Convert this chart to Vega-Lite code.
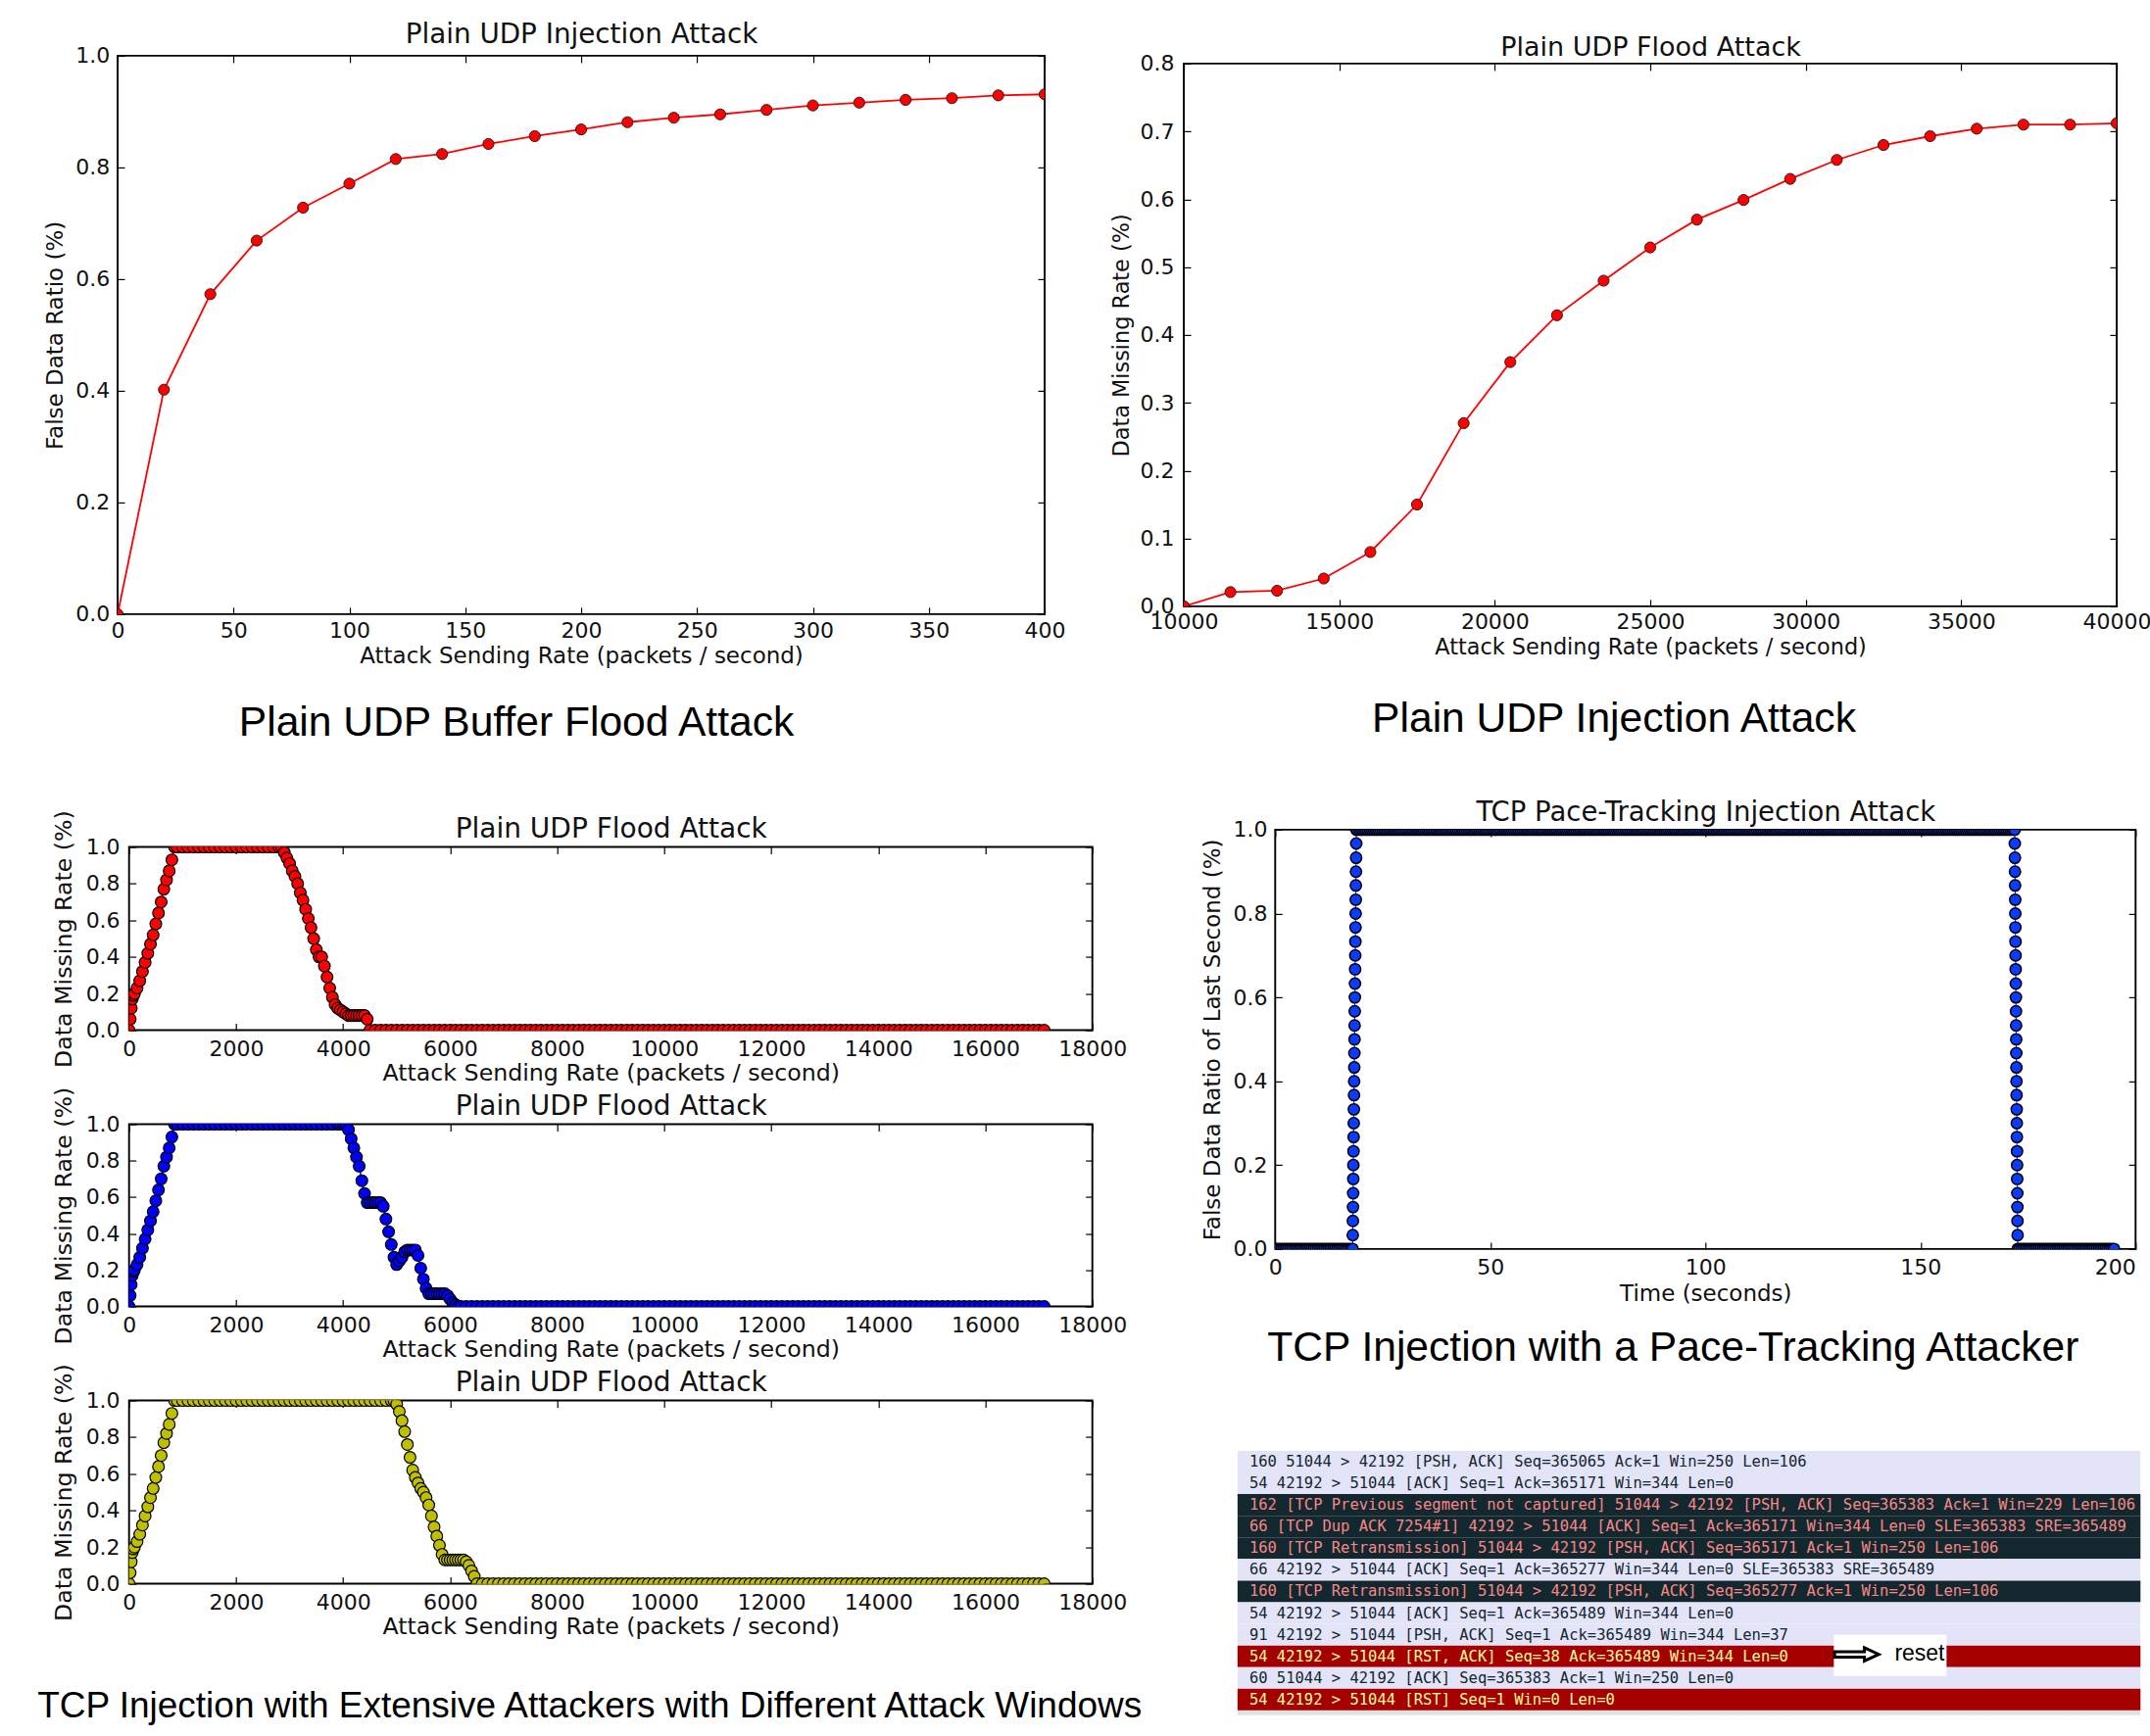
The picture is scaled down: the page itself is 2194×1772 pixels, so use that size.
{
"$schema":"https://vega.github.io/schema/vega-lite/v6.json",
"background":"white",
"padding":{"left":35,"top":20.9,"right":0,"bottom":0},
"datasets":{
"udpBuf":[{"rate":0,"ratio":0},{"rate":20,"ratio":0.402},{"rate":40,"ratio":0.573},{"rate":60,"ratio":0.669},{"rate":80,"ratio":0.728},{"rate":100,"ratio":0.771},{"rate":120,"ratio":0.815},{"rate":140,"ratio":0.824},{"rate":160,"ratio":0.842},{"rate":180,"ratio":0.856},{"rate":200,"ratio":0.868},{"rate":220,"ratio":0.881},{"rate":240,"ratio":0.889},{"rate":260,"ratio":0.895},{"rate":280,"ratio":0.903},{"rate":300,"ratio":0.911},{"rate":320,"ratio":0.916},{"rate":340,"ratio":0.921},{"rate":360,"ratio":0.924},{"rate":380,"ratio":0.929},{"rate":400,"ratio":0.931}],
"udpFlood":[{"rate":10000,"miss":0},{"rate":11500,"miss":0.021},{"rate":13000,"miss":0.023},{"rate":14500,"miss":0.041},{"rate":16000,"miss":0.08},{"rate":17500,"miss":0.15},{"rate":19000,"miss":0.27},{"rate":20500,"miss":0.36},{"rate":22000,"miss":0.429},{"rate":23500,"miss":0.48},{"rate":25000,"miss":0.529},{"rate":26500,"miss":0.57},{"rate":28000,"miss":0.599},{"rate":29500,"miss":0.63},{"rate":31000,"miss":0.658},{"rate":32500,"miss":0.68},{"rate":34000,"miss":0.693},{"rate":35500,"miss":0.704},{"rate":37000,"miss":0.71},{"rate":38500,"miss":0.71},{"rate":40000,"miss":0.712}],
"win1":[{"rate":0,"miss":0},{"rate":20,"miss":0.06},{"rate":40,"miss":0.12},{"rate":60,"miss":0.17},{"rate":80,"miss":0.19},{"rate":100,"miss":0.2},{"rate":150,"miss":0.23},{"rate":200,"miss":0.27},{"rate":250,"miss":0.32},{"rate":300,"miss":0.37},{"rate":350,"miss":0.42},{"rate":400,"miss":0.47},{"rate":450,"miss":0.52},{"rate":500,"miss":0.58},{"rate":550,"miss":0.64},{"rate":600,"miss":0.7},{"rate":650,"miss":0.77},{"rate":700,"miss":0.82},{"rate":750,"miss":0.87},{"rate":800,"miss":0.93},{"rate":850,"miss":1},
{"rate":900,"miss":1},{"rate":1000,"miss":1},{"rate":1100,"miss":1},{"rate":1200,"miss":1},{"rate":1300,"miss":1},{"rate":1400,"miss":1},{"rate":1500,"miss":1},{"rate":1600,"miss":1},{"rate":1700,"miss":1},{"rate":1800,"miss":1},{"rate":1900,"miss":1},{"rate":2000,"miss":1},{"rate":2100,"miss":1},{"rate":2200,"miss":1},{"rate":2300,"miss":1},{"rate":2400,"miss":1},{"rate":2500,"miss":1},{"rate":2600,"miss":1},{"rate":2700,"miss":1},{"rate":2800,"miss":1},
{"rate":2850,"miss":1},{"rate":2900,"miss":0.97},{"rate":2950,"miss":0.94},{"rate":3000,"miss":0.91},{"rate":3050,"miss":0.87},{"rate":3100,"miss":0.84},{"rate":3150,"miss":0.8},{"rate":3200,"miss":0.75},{"rate":3250,"miss":0.71},{"rate":3300,"miss":0.66},{"rate":3350,"miss":0.61},{"rate":3400,"miss":0.56},{"rate":3450,"miss":0.5},{"rate":3500,"miss":0.44},{"rate":3550,"miss":0.4},{"rate":3600,"miss":0.4},{"rate":3650,"miss":0.35},{"rate":3700,"miss":0.29},{"rate":3750,"miss":0.23},{"rate":3800,"miss":0.18},{"rate":3850,"miss":0.14},{"rate":3900,"miss":0.12},{"rate":3950,"miss":0.11},{"rate":4000,"miss":0.1},{"rate":4050,"miss":0.09},{"rate":4100,"miss":0.08},{"rate":4150,"miss":0.08},{"rate":4200,"miss":0.08},{"rate":4250,"miss":0.08},{"rate":4300,"miss":0.08},{"rate":4350,"miss":0.08},{"rate":4400,"miss":0.08},{"rate":4450,"miss":0.06},{"rate":4500,"miss":0},
{"rate":4600,"miss":0},{"rate":4700,"miss":0},{"rate":4800,"miss":0},{"rate":4900,"miss":0},{"rate":5000,"miss":0},{"rate":5100,"miss":0},{"rate":5200,"miss":0},{"rate":5300,"miss":0},{"rate":5400,"miss":0},{"rate":5500,"miss":0},{"rate":5600,"miss":0},{"rate":5700,"miss":0},{"rate":5800,"miss":0},{"rate":5900,"miss":0},{"rate":6000,"miss":0},{"rate":6100,"miss":0},{"rate":6200,"miss":0},{"rate":6300,"miss":0},{"rate":6400,"miss":0},{"rate":6500,"miss":0},{"rate":6600,"miss":0},{"rate":6700,"miss":0},{"rate":6800,"miss":0},{"rate":6900,"miss":0},{"rate":7000,"miss":0},{"rate":7100,"miss":0},{"rate":7200,"miss":0},{"rate":7300,"miss":0},{"rate":7400,"miss":0},{"rate":7500,"miss":0},{"rate":7600,"miss":0},{"rate":7700,"miss":0},{"rate":7800,"miss":0},{"rate":7900,"miss":0},{"rate":8000,"miss":0},{"rate":8100,"miss":0},{"rate":8200,"miss":0},{"rate":8300,"miss":0},{"rate":8400,"miss":0},{"rate":8500,"miss":0},{"rate":8600,"miss":0},{"rate":8700,"miss":0},{"rate":8800,"miss":0},{"rate":8900,"miss":0},{"rate":9000,"miss":0},{"rate":9100,"miss":0},{"rate":9200,"miss":0},{"rate":9300,"miss":0},{"rate":9400,"miss":0},{"rate":9500,"miss":0},{"rate":9600,"miss":0},{"rate":9700,"miss":0},{"rate":9800,"miss":0},{"rate":9900,"miss":0},{"rate":10000,"miss":0},{"rate":10100,"miss":0},{"rate":10200,"miss":0},{"rate":10300,"miss":0},{"rate":10400,"miss":0},{"rate":10500,"miss":0},{"rate":10600,"miss":0},{"rate":10700,"miss":0},{"rate":10800,"miss":0},{"rate":10900,"miss":0},{"rate":11000,"miss":0},{"rate":11100,"miss":0},{"rate":11200,"miss":0},{"rate":11300,"miss":0},{"rate":11400,"miss":0},{"rate":11500,"miss":0},{"rate":11600,"miss":0},{"rate":11700,"miss":0},{"rate":11800,"miss":0},{"rate":11900,"miss":0},{"rate":12000,"miss":0},{"rate":12100,"miss":0},{"rate":12200,"miss":0},{"rate":12300,"miss":0},{"rate":12400,"miss":0},{"rate":12500,"miss":0},{"rate":12600,"miss":0},{"rate":12700,"miss":0},{"rate":12800,"miss":0},{"rate":12900,"miss":0},{"rate":13000,"miss":0},{"rate":13100,"miss":0},{"rate":13200,"miss":0},{"rate":13300,"miss":0},{"rate":13400,"miss":0},{"rate":13500,"miss":0},{"rate":13600,"miss":0},{"rate":13700,"miss":0},{"rate":13800,"miss":0},{"rate":13900,"miss":0},{"rate":14000,"miss":0},{"rate":14100,"miss":0},{"rate":14200,"miss":0},{"rate":14300,"miss":0},{"rate":14400,"miss":0},{"rate":14500,"miss":0},{"rate":14600,"miss":0},{"rate":14700,"miss":0},{"rate":14800,"miss":0},{"rate":14900,"miss":0},{"rate":15000,"miss":0},{"rate":15100,"miss":0},{"rate":15200,"miss":0},{"rate":15300,"miss":0},{"rate":15400,"miss":0},{"rate":15500,"miss":0},{"rate":15600,"miss":0},{"rate":15700,"miss":0},{"rate":15800,"miss":0},{"rate":15900,"miss":0},{"rate":16000,"miss":0},{"rate":16100,"miss":0},{"rate":16200,"miss":0},{"rate":16300,"miss":0},{"rate":16400,"miss":0},{"rate":16500,"miss":0},{"rate":16600,"miss":0},{"rate":16700,"miss":0},{"rate":16800,"miss":0},{"rate":16900,"miss":0},{"rate":17000,"miss":0},{"rate":17100,"miss":0}],
"win2":[{"rate":0,"miss":0},{"rate":20,"miss":0.06},{"rate":40,"miss":0.12},{"rate":60,"miss":0.17},{"rate":80,"miss":0.19},{"rate":100,"miss":0.2},{"rate":150,"miss":0.23},{"rate":200,"miss":0.27},{"rate":250,"miss":0.32},{"rate":300,"miss":0.37},{"rate":350,"miss":0.42},{"rate":400,"miss":0.47},{"rate":450,"miss":0.52},{"rate":500,"miss":0.58},{"rate":550,"miss":0.64},{"rate":600,"miss":0.7},{"rate":650,"miss":0.77},{"rate":700,"miss":0.82},{"rate":750,"miss":0.87},{"rate":800,"miss":0.93},{"rate":850,"miss":1},
{"rate":900,"miss":1},{"rate":1000,"miss":1},{"rate":1100,"miss":1},{"rate":1200,"miss":1},{"rate":1300,"miss":1},{"rate":1400,"miss":1},{"rate":1500,"miss":1},{"rate":1600,"miss":1},{"rate":1700,"miss":1},{"rate":1800,"miss":1},{"rate":1900,"miss":1},{"rate":2000,"miss":1},{"rate":2100,"miss":1},{"rate":2200,"miss":1},{"rate":2300,"miss":1},{"rate":2400,"miss":1},{"rate":2500,"miss":1},{"rate":2600,"miss":1},{"rate":2700,"miss":1},{"rate":2800,"miss":1},{"rate":2900,"miss":1},{"rate":3000,"miss":1},{"rate":3100,"miss":1},{"rate":3200,"miss":1},{"rate":3300,"miss":1},{"rate":3400,"miss":1},{"rate":3500,"miss":1},{"rate":3600,"miss":1},{"rate":3700,"miss":1},{"rate":3800,"miss":1},{"rate":3900,"miss":1},
{"rate":3950,"miss":1},{"rate":4000,"miss":1},{"rate":4050,"miss":1},{"rate":4100,"miss":0.97},{"rate":4150,"miss":0.92},{"rate":4200,"miss":0.87},{"rate":4250,"miss":0.82},{"rate":4300,"miss":0.77},{"rate":4350,"miss":0.69},{"rate":4400,"miss":0.62},{"rate":4450,"miss":0.57},{"rate":4500,"miss":0.57},{"rate":4550,"miss":0.57},{"rate":4600,"miss":0.57},{"rate":4650,"miss":0.57},{"rate":4700,"miss":0.57},{"rate":4750,"miss":0.55},{"rate":4800,"miss":0.48},{"rate":4850,"miss":0.41},{"rate":4900,"miss":0.34},{"rate":4950,"miss":0.27},{"rate":5000,"miss":0.23},{"rate":5050,"miss":0.25},{"rate":5100,"miss":0.27},{"rate":5150,"miss":0.3},{"rate":5200,"miss":0.31},{"rate":5250,"miss":0.31},{"rate":5300,"miss":0.31},{"rate":5350,"miss":0.31},{"rate":5400,"miss":0.28},{"rate":5450,"miss":0.21},{"rate":5500,"miss":0.15},{"rate":5550,"miss":0.1},{"rate":5600,"miss":0.07},{"rate":5650,"miss":0.07},{"rate":5700,"miss":0.07},{"rate":5750,"miss":0.07},{"rate":5800,"miss":0.07},{"rate":5850,"miss":0.07},{"rate":5900,"miss":0.07},{"rate":5950,"miss":0.06},{"rate":6000,"miss":0.04},{"rate":6050,"miss":0.02},{"rate":6100,"miss":0.01},{"rate":6150,"miss":0},
{"rate":6200,"miss":0},{"rate":6300,"miss":0},{"rate":6400,"miss":0},{"rate":6500,"miss":0},{"rate":6600,"miss":0},{"rate":6700,"miss":0},{"rate":6800,"miss":0},{"rate":6900,"miss":0},{"rate":7000,"miss":0},{"rate":7100,"miss":0},{"rate":7200,"miss":0},{"rate":7300,"miss":0},{"rate":7400,"miss":0},{"rate":7500,"miss":0},{"rate":7600,"miss":0},{"rate":7700,"miss":0},{"rate":7800,"miss":0},{"rate":7900,"miss":0},{"rate":8000,"miss":0},{"rate":8100,"miss":0},{"rate":8200,"miss":0},{"rate":8300,"miss":0},{"rate":8400,"miss":0},{"rate":8500,"miss":0},{"rate":8600,"miss":0},{"rate":8700,"miss":0},{"rate":8800,"miss":0},{"rate":8900,"miss":0},{"rate":9000,"miss":0},{"rate":9100,"miss":0},{"rate":9200,"miss":0},{"rate":9300,"miss":0},{"rate":9400,"miss":0},{"rate":9500,"miss":0},{"rate":9600,"miss":0},{"rate":9700,"miss":0},{"rate":9800,"miss":0},{"rate":9900,"miss":0},{"rate":10000,"miss":0},{"rate":10100,"miss":0},{"rate":10200,"miss":0},{"rate":10300,"miss":0},{"rate":10400,"miss":0},{"rate":10500,"miss":0},{"rate":10600,"miss":0},{"rate":10700,"miss":0},{"rate":10800,"miss":0},{"rate":10900,"miss":0},{"rate":11000,"miss":0},{"rate":11100,"miss":0},{"rate":11200,"miss":0},{"rate":11300,"miss":0},{"rate":11400,"miss":0},{"rate":11500,"miss":0},{"rate":11600,"miss":0},{"rate":11700,"miss":0},{"rate":11800,"miss":0},{"rate":11900,"miss":0},{"rate":12000,"miss":0},{"rate":12100,"miss":0},{"rate":12200,"miss":0},{"rate":12300,"miss":0},{"rate":12400,"miss":0},{"rate":12500,"miss":0},{"rate":12600,"miss":0},{"rate":12700,"miss":0},{"rate":12800,"miss":0},{"rate":12900,"miss":0},{"rate":13000,"miss":0},{"rate":13100,"miss":0},{"rate":13200,"miss":0},{"rate":13300,"miss":0},{"rate":13400,"miss":0},{"rate":13500,"miss":0},{"rate":13600,"miss":0},{"rate":13700,"miss":0},{"rate":13800,"miss":0},{"rate":13900,"miss":0},{"rate":14000,"miss":0},{"rate":14100,"miss":0},{"rate":14200,"miss":0},{"rate":14300,"miss":0},{"rate":14400,"miss":0},{"rate":14500,"miss":0},{"rate":14600,"miss":0},{"rate":14700,"miss":0},{"rate":14800,"miss":0},{"rate":14900,"miss":0},{"rate":15000,"miss":0},{"rate":15100,"miss":0},{"rate":15200,"miss":0},{"rate":15300,"miss":0},{"rate":15400,"miss":0},{"rate":15500,"miss":0},{"rate":15600,"miss":0},{"rate":15700,"miss":0},{"rate":15800,"miss":0},{"rate":15900,"miss":0},{"rate":16000,"miss":0},{"rate":16100,"miss":0},{"rate":16200,"miss":0},{"rate":16300,"miss":0},{"rate":16400,"miss":0},{"rate":16500,"miss":0},{"rate":16600,"miss":0},{"rate":16700,"miss":0},{"rate":16800,"miss":0},{"rate":16900,"miss":0},{"rate":17000,"miss":0},{"rate":17100,"miss":0}],
"win3":[{"rate":0,"miss":0},{"rate":20,"miss":0.06},{"rate":40,"miss":0.12},{"rate":60,"miss":0.17},{"rate":80,"miss":0.19},{"rate":100,"miss":0.2},{"rate":150,"miss":0.23},{"rate":200,"miss":0.27},{"rate":250,"miss":0.32},{"rate":300,"miss":0.37},{"rate":350,"miss":0.42},{"rate":400,"miss":0.47},{"rate":450,"miss":0.52},{"rate":500,"miss":0.58},{"rate":550,"miss":0.64},{"rate":600,"miss":0.7},{"rate":650,"miss":0.77},{"rate":700,"miss":0.82},{"rate":750,"miss":0.87},{"rate":800,"miss":0.93},{"rate":850,"miss":1},
{"rate":900,"miss":1},{"rate":1000,"miss":1},{"rate":1100,"miss":1},{"rate":1200,"miss":1},{"rate":1300,"miss":1},{"rate":1400,"miss":1},{"rate":1500,"miss":1},{"rate":1600,"miss":1},{"rate":1700,"miss":1},{"rate":1800,"miss":1},{"rate":1900,"miss":1},{"rate":2000,"miss":1},{"rate":2100,"miss":1},{"rate":2200,"miss":1},{"rate":2300,"miss":1},{"rate":2400,"miss":1},{"rate":2500,"miss":1},{"rate":2600,"miss":1},{"rate":2700,"miss":1},{"rate":2800,"miss":1},{"rate":2900,"miss":1},{"rate":3000,"miss":1},{"rate":3100,"miss":1},{"rate":3200,"miss":1},{"rate":3300,"miss":1},{"rate":3400,"miss":1},{"rate":3500,"miss":1},{"rate":3600,"miss":1},{"rate":3700,"miss":1},{"rate":3800,"miss":1},{"rate":3900,"miss":1},{"rate":4000,"miss":1},{"rate":4100,"miss":1},{"rate":4200,"miss":1},{"rate":4300,"miss":1},{"rate":4400,"miss":1},{"rate":4500,"miss":1},{"rate":4600,"miss":1},{"rate":4700,"miss":1},{"rate":4800,"miss":1},{"rate":4900,"miss":1},
{"rate":4950,"miss":1},{"rate":5000,"miss":0.98},{"rate":5050,"miss":0.94},{"rate":5100,"miss":0.89},{"rate":5150,"miss":0.83},{"rate":5200,"miss":0.76},{"rate":5250,"miss":0.69},{"rate":5300,"miss":0.62},{"rate":5350,"miss":0.58},{"rate":5400,"miss":0.55},{"rate":5450,"miss":0.52},{"rate":5500,"miss":0.5},{"rate":5550,"miss":0.47},{"rate":5600,"miss":0.43},{"rate":5650,"miss":0.37},{"rate":5700,"miss":0.31},{"rate":5750,"miss":0.26},{"rate":5800,"miss":0.21},{"rate":5850,"miss":0.16},{"rate":5900,"miss":0.13},{"rate":5950,"miss":0.13},{"rate":6000,"miss":0.13},{"rate":6050,"miss":0.13},{"rate":6100,"miss":0.13},{"rate":6150,"miss":0.13},{"rate":6200,"miss":0.13},{"rate":6250,"miss":0.13},{"rate":6300,"miss":0.12},{"rate":6350,"miss":0.1},{"rate":6400,"miss":0.07},{"rate":6450,"miss":0.04},{"rate":6500,"miss":0},
{"rate":6600,"miss":0},{"rate":6700,"miss":0},{"rate":6800,"miss":0},{"rate":6900,"miss":0},{"rate":7000,"miss":0},{"rate":7100,"miss":0},{"rate":7200,"miss":0},{"rate":7300,"miss":0},{"rate":7400,"miss":0},{"rate":7500,"miss":0},{"rate":7600,"miss":0},{"rate":7700,"miss":0},{"rate":7800,"miss":0},{"rate":7900,"miss":0},{"rate":8000,"miss":0},{"rate":8100,"miss":0},{"rate":8200,"miss":0},{"rate":8300,"miss":0},{"rate":8400,"miss":0},{"rate":8500,"miss":0},{"rate":8600,"miss":0},{"rate":8700,"miss":0},{"rate":8800,"miss":0},{"rate":8900,"miss":0},{"rate":9000,"miss":0},{"rate":9100,"miss":0},{"rate":9200,"miss":0},{"rate":9300,"miss":0},{"rate":9400,"miss":0},{"rate":9500,"miss":0},{"rate":9600,"miss":0},{"rate":9700,"miss":0},{"rate":9800,"miss":0},{"rate":9900,"miss":0},{"rate":10000,"miss":0},{"rate":10100,"miss":0},{"rate":10200,"miss":0},{"rate":10300,"miss":0},{"rate":10400,"miss":0},{"rate":10500,"miss":0},{"rate":10600,"miss":0},{"rate":10700,"miss":0},{"rate":10800,"miss":0},{"rate":10900,"miss":0},{"rate":11000,"miss":0},{"rate":11100,"miss":0},{"rate":11200,"miss":0},{"rate":11300,"miss":0},{"rate":11400,"miss":0},{"rate":11500,"miss":0},{"rate":11600,"miss":0},{"rate":11700,"miss":0},{"rate":11800,"miss":0},{"rate":11900,"miss":0},{"rate":12000,"miss":0},{"rate":12100,"miss":0},{"rate":12200,"miss":0},{"rate":12300,"miss":0},{"rate":12400,"miss":0},{"rate":12500,"miss":0},{"rate":12600,"miss":0},{"rate":12700,"miss":0},{"rate":12800,"miss":0},{"rate":12900,"miss":0},{"rate":13000,"miss":0},{"rate":13100,"miss":0},{"rate":13200,"miss":0},{"rate":13300,"miss":0},{"rate":13400,"miss":0},{"rate":13500,"miss":0},{"rate":13600,"miss":0},{"rate":13700,"miss":0},{"rate":13800,"miss":0},{"rate":13900,"miss":0},{"rate":14000,"miss":0},{"rate":14100,"miss":0},{"rate":14200,"miss":0},{"rate":14300,"miss":0},{"rate":14400,"miss":0},{"rate":14500,"miss":0},{"rate":14600,"miss":0},{"rate":14700,"miss":0},{"rate":14800,"miss":0},{"rate":14900,"miss":0},{"rate":15000,"miss":0},{"rate":15100,"miss":0},{"rate":15200,"miss":0},{"rate":15300,"miss":0},{"rate":15400,"miss":0},{"rate":15500,"miss":0},{"rate":15600,"miss":0},{"rate":15700,"miss":0},{"rate":15800,"miss":0},{"rate":15900,"miss":0},{"rate":16000,"miss":0},{"rate":16100,"miss":0},{"rate":16200,"miss":0},{"rate":16300,"miss":0},{"rate":16400,"miss":0},{"rate":16500,"miss":0},{"rate":16600,"miss":0},{"rate":16700,"miss":0},{"rate":16800,"miss":0},{"rate":16900,"miss":0},{"rate":17000,"miss":0},{"rate":17100,"miss":0}],
"pace":[{"t":0,"r":0},{"t":0.5,"r":0},{"t":1,"r":0},{"t":1.5,"r":0},{"t":2,"r":0},{"t":2.5,"r":0},{"t":3,"r":0},{"t":3.5,"r":0},{"t":4,"r":0},{"t":4.5,"r":0},{"t":5,"r":0},{"t":5.5,"r":0},{"t":6,"r":0},{"t":6.5,"r":0},{"t":7,"r":0},{"t":7.5,"r":0},{"t":8,"r":0},{"t":8.5,"r":0},{"t":9,"r":0},{"t":9.5,"r":0},{"t":10,"r":0},{"t":10.5,"r":0},{"t":11,"r":0},{"t":11.5,"r":0},{"t":12,"r":0},{"t":12.5,"r":0},{"t":13,"r":0},{"t":13.5,"r":0},{"t":14,"r":0},{"t":14.5,"r":0},{"t":15,"r":0},{"t":15.5,"r":0},{"t":16,"r":0},{"t":16.5,"r":0},{"t":17,"r":0},{"t":17.5,"r":0},
{"t":18,"r":0},{"t":18.03,"r":0.033},{"t":18.06,"r":0.067},{"t":18.09,"r":0.1},{"t":18.12,"r":0.133},{"t":18.15,"r":0.167},{"t":18.17,"r":0.2},{"t":18.2,"r":0.233},{"t":18.23,"r":0.267},{"t":18.26,"r":0.3},{"t":18.29,"r":0.333},{"t":18.32,"r":0.367},{"t":18.35,"r":0.4},{"t":18.38,"r":0.433},{"t":18.41,"r":0.467},{"t":18.44,"r":0.5},{"t":18.46,"r":0.533},{"t":18.49,"r":0.567},{"t":18.52,"r":0.6},{"t":18.55,"r":0.633},{"t":18.58,"r":0.667},{"t":18.61,"r":0.7},{"t":18.64,"r":0.733},{"t":18.67,"r":0.767},{"t":18.7,"r":0.8},{"t":18.73,"r":0.833},{"t":18.75,"r":0.867},{"t":18.78,"r":0.9},{"t":18.81,"r":0.933},{"t":18.84,"r":0.967},{"t":18.87,"r":1},
{"t":19,"r":1},{"t":19.5,"r":1},{"t":20,"r":1},{"t":20.5,"r":1},{"t":21,"r":1},{"t":21.5,"r":1},{"t":22,"r":1},{"t":22.5,"r":1},{"t":23,"r":1},{"t":23.5,"r":1},{"t":24,"r":1},{"t":24.5,"r":1},{"t":25,"r":1},{"t":25.5,"r":1},{"t":26,"r":1},{"t":26.5,"r":1},{"t":27,"r":1},{"t":27.5,"r":1},{"t":28,"r":1},{"t":28.5,"r":1},{"t":29,"r":1},{"t":29.5,"r":1},{"t":30,"r":1},{"t":30.5,"r":1},{"t":31,"r":1},{"t":31.5,"r":1},{"t":32,"r":1},{"t":32.5,"r":1},{"t":33,"r":1},{"t":33.5,"r":1},{"t":34,"r":1},{"t":34.5,"r":1},{"t":35,"r":1},{"t":35.5,"r":1},{"t":36,"r":1},{"t":36.5,"r":1},{"t":37,"r":1},{"t":37.5,"r":1},{"t":38,"r":1},{"t":38.5,"r":1},{"t":39,"r":1},{"t":39.5,"r":1},{"t":40,"r":1},{"t":40.5,"r":1},{"t":41,"r":1},{"t":41.5,"r":1},{"t":42,"r":1},{"t":42.5,"r":1},{"t":43,"r":1},{"t":43.5,"r":1},{"t":44,"r":1},{"t":44.5,"r":1},{"t":45,"r":1},{"t":45.5,"r":1},{"t":46,"r":1},{"t":46.5,"r":1},{"t":47,"r":1},{"t":47.5,"r":1},{"t":48,"r":1},{"t":48.5,"r":1},{"t":49,"r":1},{"t":49.5,"r":1},{"t":50,"r":1},{"t":50.5,"r":1},{"t":51,"r":1},{"t":51.5,"r":1},{"t":52,"r":1},{"t":52.5,"r":1},{"t":53,"r":1},{"t":53.5,"r":1},{"t":54,"r":1},{"t":54.5,"r":1},{"t":55,"r":1},{"t":55.5,"r":1},{"t":56,"r":1},{"t":56.5,"r":1},{"t":57,"r":1},{"t":57.5,"r":1},{"t":58,"r":1},{"t":58.5,"r":1},{"t":59,"r":1},{"t":59.5,"r":1},{"t":60,"r":1},{"t":60.5,"r":1},{"t":61,"r":1},{"t":61.5,"r":1},{"t":62,"r":1},{"t":62.5,"r":1},{"t":63,"r":1},{"t":63.5,"r":1},{"t":64,"r":1},{"t":64.5,"r":1},{"t":65,"r":1},{"t":65.5,"r":1},{"t":66,"r":1},{"t":66.5,"r":1},{"t":67,"r":1},{"t":67.5,"r":1},{"t":68,"r":1},{"t":68.5,"r":1},{"t":69,"r":1},{"t":69.5,"r":1},{"t":70,"r":1},{"t":70.5,"r":1},{"t":71,"r":1},{"t":71.5,"r":1},{"t":72,"r":1},{"t":72.5,"r":1},{"t":73,"r":1},{"t":73.5,"r":1},{"t":74,"r":1},{"t":74.5,"r":1},{"t":75,"r":1},{"t":75.5,"r":1},{"t":76,"r":1},{"t":76.5,"r":1},{"t":77,"r":1},{"t":77.5,"r":1},{"t":78,"r":1},{"t":78.5,"r":1},{"t":79,"r":1},{"t":79.5,"r":1},{"t":80,"r":1},{"t":80.5,"r":1},{"t":81,"r":1},{"t":81.5,"r":1},{"t":82,"r":1},{"t":82.5,"r":1},{"t":83,"r":1},{"t":83.5,"r":1},{"t":84,"r":1},{"t":84.5,"r":1},{"t":85,"r":1},{"t":85.5,"r":1},{"t":86,"r":1},{"t":86.5,"r":1},{"t":87,"r":1},{"t":87.5,"r":1},{"t":88,"r":1},{"t":88.5,"r":1},{"t":89,"r":1},{"t":89.5,"r":1},{"t":90,"r":1},{"t":90.5,"r":1},{"t":91,"r":1},{"t":91.5,"r":1},{"t":92,"r":1},{"t":92.5,"r":1},{"t":93,"r":1},{"t":93.5,"r":1},{"t":94,"r":1},{"t":94.5,"r":1},{"t":95,"r":1},{"t":95.5,"r":1},{"t":96,"r":1},{"t":96.5,"r":1},{"t":97,"r":1},{"t":97.5,"r":1},{"t":98,"r":1},{"t":98.5,"r":1},{"t":99,"r":1},{"t":99.5,"r":1},{"t":100,"r":1},{"t":100.5,"r":1},{"t":101,"r":1},{"t":101.5,"r":1},{"t":102,"r":1},{"t":102.5,"r":1},{"t":103,"r":1},{"t":103.5,"r":1},{"t":104,"r":1},{"t":104.5,"r":1},{"t":105,"r":1},{"t":105.5,"r":1},{"t":106,"r":1},{"t":106.5,"r":1},{"t":107,"r":1},{"t":107.5,"r":1},{"t":108,"r":1},{"t":108.5,"r":1},{"t":109,"r":1},{"t":109.5,"r":1},{"t":110,"r":1},{"t":110.5,"r":1},{"t":111,"r":1},{"t":111.5,"r":1},{"t":112,"r":1},{"t":112.5,"r":1},{"t":113,"r":1},{"t":113.5,"r":1},{"t":114,"r":1},{"t":114.5,"r":1},{"t":115,"r":1},{"t":115.5,"r":1},{"t":116,"r":1},{"t":116.5,"r":1},{"t":117,"r":1},{"t":117.5,"r":1},{"t":118,"r":1},{"t":118.5,"r":1},{"t":119,"r":1},{"t":119.5,"r":1},{"t":120,"r":1},{"t":120.5,"r":1},{"t":121,"r":1},{"t":121.5,"r":1},{"t":122,"r":1},{"t":122.5,"r":1},{"t":123,"r":1},{"t":123.5,"r":1},{"t":124,"r":1},{"t":124.5,"r":1},{"t":125,"r":1},{"t":125.5,"r":1},{"t":126,"r":1},{"t":126.5,"r":1},{"t":127,"r":1},{"t":127.5,"r":1},{"t":128,"r":1},{"t":128.5,"r":1},{"t":129,"r":1},{"t":129.5,"r":1},{"t":130,"r":1},{"t":130.5,"r":1},{"t":131,"r":1},{"t":131.5,"r":1},{"t":132,"r":1},{"t":132.5,"r":1},{"t":133,"r":1},{"t":133.5,"r":1},{"t":134,"r":1},{"t":134.5,"r":1},{"t":135,"r":1},{"t":135.5,"r":1},{"t":136,"r":1},{"t":136.5,"r":1},{"t":137,"r":1},{"t":137.5,"r":1},{"t":138,"r":1},{"t":138.5,"r":1},{"t":139,"r":1},{"t":139.5,"r":1},{"t":140,"r":1},{"t":140.5,"r":1},{"t":141,"r":1},{"t":141.5,"r":1},{"t":142,"r":1},{"t":142.5,"r":1},{"t":143,"r":1},{"t":143.5,"r":1},{"t":144,"r":1},{"t":144.5,"r":1},{"t":145,"r":1},{"t":145.5,"r":1},{"t":146,"r":1},{"t":146.5,"r":1},{"t":147,"r":1},{"t":147.5,"r":1},{"t":148,"r":1},{"t":148.5,"r":1},{"t":149,"r":1},{"t":149.5,"r":1},{"t":150,"r":1},{"t":150.5,"r":1},{"t":151,"r":1},{"t":151.5,"r":1},{"t":152,"r":1},{"t":152.5,"r":1},{"t":153,"r":1},{"t":153.5,"r":1},{"t":154,"r":1},{"t":154.5,"r":1},{"t":155,"r":1},{"t":155.5,"r":1},{"t":156,"r":1},{"t":156.5,"r":1},{"t":157,"r":1},{"t":157.5,"r":1},{"t":158,"r":1},{"t":158.5,"r":1},{"t":159,"r":1},{"t":159.5,"r":1},{"t":160,"r":1},{"t":160.5,"r":1},{"t":161,"r":1},{"t":161.5,"r":1},{"t":162,"r":1},{"t":162.5,"r":1},{"t":163,"r":1},{"t":163.5,"r":1},{"t":164,"r":1},{"t":164.5,"r":1},{"t":165,"r":1},{"t":165.5,"r":1},{"t":166,"r":1},{"t":166.5,"r":1},{"t":167,"r":1},{"t":167.5,"r":1},{"t":168,"r":1},{"t":168.5,"r":1},{"t":169,"r":1},{"t":169.5,"r":1},{"t":170,"r":1},{"t":170.5,"r":1},{"t":171,"r":1},{"t":171.5,"r":1},
{"t":171.9,"r":1},{"t":171.92,"r":0.967},{"t":171.95,"r":0.933},{"t":171.97,"r":0.9},{"t":171.99,"r":0.867},{"t":172.02,"r":0.833},{"t":172.04,"r":0.8},{"t":172.06,"r":0.767},{"t":172.09,"r":0.733},{"t":172.11,"r":0.7},{"t":172.13,"r":0.667},{"t":172.16,"r":0.633},{"t":172.18,"r":0.6},{"t":172.2,"r":0.567},{"t":172.23,"r":0.533},{"t":172.25,"r":0.5},{"t":172.27,"r":0.467},{"t":172.3,"r":0.433},{"t":172.32,"r":0.4},{"t":172.34,"r":0.367},{"t":172.37,"r":0.333},{"t":172.39,"r":0.3},{"t":172.41,"r":0.267},{"t":172.44,"r":0.233},{"t":172.46,"r":0.2},{"t":172.48,"r":0.167},{"t":172.51,"r":0.133},{"t":172.53,"r":0.1},{"t":172.55,"r":0.067},{"t":172.58,"r":0.033},{"t":172.6,"r":0},
{"t":173,"r":0},{"t":173.5,"r":0},{"t":174,"r":0},{"t":174.5,"r":0},{"t":175,"r":0},{"t":175.5,"r":0},{"t":176,"r":0},{"t":176.5,"r":0},{"t":177,"r":0},{"t":177.5,"r":0},{"t":178,"r":0},{"t":178.5,"r":0},{"t":179,"r":0},{"t":179.5,"r":0},{"t":180,"r":0},{"t":180.5,"r":0},{"t":181,"r":0},{"t":181.5,"r":0},{"t":182,"r":0},{"t":182.5,"r":0},{"t":183,"r":0},{"t":183.5,"r":0},{"t":184,"r":0},{"t":184.5,"r":0},{"t":185,"r":0},{"t":185.5,"r":0},{"t":186,"r":0},{"t":186.5,"r":0},{"t":187,"r":0},{"t":187.5,"r":0},{"t":188,"r":0},{"t":188.5,"r":0},{"t":189,"r":0},{"t":189.5,"r":0},{"t":190,"r":0},{"t":190.5,"r":0},{"t":191,"r":0},{"t":191.5,"r":0},{"t":192,"r":0},{"t":192.5,"r":0},{"t":193,"r":0},{"t":193.5,"r":0},{"t":194,"r":0},{"t":194.5,"r":0},{"t":195,"r":0}],
"pcap":[
{"idx":1,"kind":"tcp","line":"160 51044 > 42192 [PSH, ACK] Seq=365065 Ack=1 Win=250 Len=106"},
{"idx":2,"kind":"tcp","line":"\u00a054 42192 > 51044 [ACK] Seq=1 Ack=365171 Win=344 Len=0"},
{"idx":3,"kind":"bad","line":"162 [TCP Previous segment not captured] 51044 > 42192 [PSH, ACK] Seq=365383 Ack=1 Win=229 Len=106"},
{"idx":4,"kind":"bad","line":"\u00a066 [TCP Dup ACK 7254#1] 42192 > 51044 [ACK] Seq=1 Ack=365171 Win=344 Len=0 SLE=365383 SRE=365489"},
{"idx":5,"kind":"bad","line":"160 [TCP Retransmission] 51044 > 42192 [PSH, ACK] Seq=365171 Ack=1 Win=250 Len=106"},
{"idx":6,"kind":"tcp","line":"\u00a066 42192 > 51044 [ACK] Seq=1 Ack=365277 Win=344 Len=0 SLE=365383 SRE=365489"},
{"idx":7,"kind":"bad","line":"160 [TCP Retransmission] 51044 > 42192 [PSH, ACK] Seq=365277 Ack=1 Win=250 Len=106"},
{"idx":8,"kind":"tcp","line":"\u00a054 42192 > 51044 [ACK] Seq=1 Ack=365489 Win=344 Len=0"},
{"idx":9,"kind":"tcp","line":"\u00a091 42192 > 51044 [PSH, ACK] Seq=1 Ack=365489 Win=344 Len=37"},
{"idx":10,"kind":"rst","line":"\u00a054 42192 > 51044 [RST, ACK] Seq=38 Ack=365489 Win=344 Len=0"},
{"idx":11,"kind":"tcp","line":"\u00a060 51044 > 42192 [ACK] Seq=365383 Ack=1 Win=250 Len=0"},
{"idx":12,"kind":"rst","line":"\u00a054 42192 > 51044 [RST] Seq=1 Win=0 Len=0"}]
},
"concat":[
{"hconcat":[
 {"width":946,"height":570,"data":{"name":"udpBuf"},
  "title":{"text":"Plain UDP Buffer Flood Attack","orient":"bottom","frame":"group","dx":-66,"offset":36,"fontSize":42.6},
  "layer":[
   {"mark":{"type":"line","color":"#ff0000","strokeWidth":1.8,"clip":true},
    "encoding":{
     "x":{"field":"rate","type":"quantitative","scale":{"domain":[0,400],"nice":false,"zero":false},"axis":{"orient":"bottom","title":"Attack Sending Rate (packets / second)","values":[0,50,100,150,200,250,300,350,400],"format":"d","labelPadding":13.7,"titlePadding":3.8}},
     "y":{"field":"ratio","type":"quantitative","scale":{"domain":[0,1],"nice":false},"axis":{"orient":"left","title":"False Data Ratio (%)","values":[0,0.2,0.4,0.6,0.8,1],"format":".1f","labelPadding":15.3,"titlePadding":8.4}}}},
   {"mark":{"type":"point","filled":true,"fill":"#ff0000","stroke":"#222222","strokeWidth":1,"size":125,"opacity":1,"clip":true},
    "encoding":{
     "x":{"field":"rate","type":"quantitative","axis":{"orient":"top","labels":false,"values":[0,50,100,150,200,250,300,350,400],"title":"Plain UDP Injection Attack","titleFontSize":27.8,"titlePadding":6.3}},
     "y":{"field":"ratio","type":"quantitative","axis":{"orient":"right","labels":false,"values":[0,0.2,0.4,0.6,0.8,1],"title":null}}}}
  ]},
 {"width":952,"height":554,"data":{"name":"udpFlood"},
  "title":{"text":"Plain UDP Injection Attack","orient":"bottom","frame":"group","dx":-37,"offset":41,"fontSize":42.6},
  "layer":[
   {"mark":{"type":"line","color":"#ff0000","strokeWidth":1.8,"clip":true},
    "encoding":{
     "x":{"field":"rate","type":"quantitative","scale":{"domain":[10000,40000],"nice":false,"zero":false},"axis":{"orient":"bottom","title":"Attack Sending Rate (packets / second)","values":[10000,15000,20000,25000,30000,35000,40000],"format":"d","labelPadding":12.5,"titlePadding":4.3,"titleFontSize":22.4}},
     "y":{"field":"miss","type":"quantitative","scale":{"domain":[0,0.8],"nice":false},"axis":{"orient":"left","title":"Data Missing Rate (%)","values":[0,0.1,0.2,0.3,0.4,0.5,0.6,0.7,0.8],"format":".1f","labelPadding":17,"titlePadding":7,"titleFontSize":22.4}}}},
   {"mark":{"type":"point","filled":true,"fill":"#ff0000","stroke":"#222222","strokeWidth":1,"size":125,"opacity":1,"clip":true},
    "encoding":{
     "x":{"field":"rate","type":"quantitative","axis":{"orient":"top","labels":false,"values":[10000,15000,20000,25000,30000,35000,40000],"title":"Plain UDP Flood Attack","titleFontSize":27,"titlePadding":1.6}},
     "y":{"field":"miss","type":"quantitative","axis":{"orient":"right","labels":false,"values":[0,0.1,0.2,0.3,0.4,0.5,0.6,0.7,0.8],"title":null}}}}
  ]}
 ],"bounds":"flush","spacing":142,"center":true},
{"hconcat":[
 {"vconcat":[
  {"width":983,"height":187,"data":{"name":"win1"},
   "layer":[
    {"mark":{"type":"line","color":"#ff0000","strokeWidth":1.5,"clip":true},
     "encoding":{
      "x":{"field":"rate","type":"quantitative","scale":{"domain":[0,18000],"nice":false,"zero":false},"axis":{"orient":"bottom","title":"Attack Sending Rate (packets / second)","values":[0,2000,4000,6000,8000,10000,12000,14000,16000,18000],"format":"d","labelPadding":16,"titlePadding":2,"titleFontSize":23.7}},
      "y":{"field":"miss","type":"quantitative","scale":{"domain":[0,1],"nice":false},"axis":{"orient":"left","title":"Data Missing Rate (%)","values":[0,0.2,0.4,0.6,0.8,1],"format":".1f","labelPadding":16.6,"titlePadding":9.4,"titleFontSize":23.7}}}},
    {"mark":{"type":"point","filled":true,"fill":"#ff0000","stroke":"#000000","strokeWidth":1.2,"size":140,"opacity":1,"clip":true},
     "encoding":{
      "x":{"field":"rate","type":"quantitative","axis":{"orient":"top","labels":false,"values":[0,2000,4000,6000,8000,10000,12000,14000,16000,18000],"title":"Plain UDP Flood Attack","titleFontSize":28,"titlePadding":3.4}},
      "y":{"field":"miss","type":"quantitative","axis":{"orient":"right","labels":false,"values":[0,0.2,0.4,0.6,0.8,1],"title":null}}}}
   ]},
  {"width":983,"height":186,"data":{"name":"win2"},
   "layer":[
    {"mark":{"type":"line","color":"#0000ff","strokeWidth":1.5,"clip":true},
     "encoding":{
      "x":{"field":"rate","type":"quantitative","scale":{"domain":[0,18000],"nice":false,"zero":false},"axis":{"orient":"bottom","title":"Attack Sending Rate (packets / second)","values":[0,2000,4000,6000,8000,10000,12000,14000,16000,18000],"format":"d","labelPadding":16,"titlePadding":2,"titleFontSize":23.7}},
      "y":{"field":"miss","type":"quantitative","scale":{"domain":[0,1],"nice":false},"axis":{"orient":"left","title":"Data Missing Rate (%)","values":[0,0.2,0.4,0.6,0.8,1],"format":".1f","labelPadding":16.6,"titlePadding":9.4,"titleFontSize":23.7}}}},
    {"mark":{"type":"point","filled":true,"fill":"#0000ff","stroke":"#000000","strokeWidth":1.2,"size":140,"opacity":1,"clip":true},
     "encoding":{
      "x":{"field":"rate","type":"quantitative","axis":{"orient":"top","labels":false,"values":[0,2000,4000,6000,8000,10000,12000,14000,16000,18000],"title":"Plain UDP Flood Attack","titleFontSize":28,"titlePadding":3.4}},
      "y":{"field":"miss","type":"quantitative","axis":{"orient":"right","labels":false,"values":[0,0.2,0.4,0.6,0.8,1],"title":null}}}}
   ]},
  {"width":983,"height":187,"data":{"name":"win3"},
   "layer":[
    {"mark":{"type":"line","color":"#bfbf00","strokeWidth":1.5,"clip":true},
     "encoding":{
      "x":{"field":"rate","type":"quantitative","scale":{"domain":[0,18000],"nice":false,"zero":false},"axis":{"orient":"bottom","title":"Attack Sending Rate (packets / second)","values":[0,2000,4000,6000,8000,10000,12000,14000,16000,18000],"format":"d","labelPadding":16,"titlePadding":2,"titleFontSize":23.7}},
      "y":{"field":"miss","type":"quantitative","scale":{"domain":[0,1],"nice":false},"axis":{"orient":"left","title":"Data Missing Rate (%)","values":[0,0.2,0.4,0.6,0.8,1],"format":".1f","labelPadding":16.6,"titlePadding":9.4,"titleFontSize":23.7}}}},
    {"mark":{"type":"point","filled":true,"fill":"#bfbf00","stroke":"#000000","strokeWidth":1.2,"size":140,"opacity":1,"clip":true},
     "encoding":{
      "x":{"field":"rate","type":"quantitative","axis":{"orient":"top","labels":false,"values":[0,2000,4000,6000,8000,10000,12000,14000,16000,18000],"title":"Plain UDP Flood Attack","titleFontSize":28,"titlePadding":3.4}},
      "y":{"field":"miss","type":"quantitative","axis":{"orient":"right","labels":false,"values":[0,0.2,0.4,0.6,0.8,1],"title":null}}}}
   ]}
  ],"bounds":"flush","spacing":96,
  "title":{"text":"TCP Injection with Extensive Attackers with Different Attack Windows","orient":"bottom","fontSize":37,"offset":51}},
 {"vconcat":[
  {"width":878,"height":428,"data":{"name":"pace"},
   "title":{"text":"TCP Injection with a Pace-Tracking Attacker","orient":"bottom","frame":"group","dx":-33,"offset":22.8,"fontSize":42.6},
   "layer":[
    {"mark":{"type":"line","color":"#0a3cff","strokeWidth":1.2,"clip":true},
     "encoding":{
      "x":{"field":"t","type":"quantitative","scale":{"domain":[0,200],"nice":false,"zero":false},"axis":{"orient":"bottom","title":"Time (seconds)","values":[0,50,100,150,200],"format":"d","labelPadding":16,"titlePadding":4.8,"labelAlign":{"condition":{"test":"datum.value === 200","value":"right"},"value":"center"}}},
      "y":{"field":"r","type":"quantitative","scale":{"domain":[0,1],"nice":false},"axis":{"orient":"left","title":"False Data Ratio of Last Second (%)","values":[0,0.2,0.4,0.6,0.8,1],"format":".1f","labelPadding":15.3,"titlePadding":8.4}}}},
    {"mark":{"type":"point","filled":true,"fill":"#0a3cff","stroke":"#000000","strokeWidth":1.5,"size":130,"opacity":1,"clip":true},
     "encoding":{
      "x":{"field":"t","type":"quantitative","axis":{"orient":"top","labels":false,"values":[0,50,100,150,200],"title":"TCP Pace-Tracking Injection Attack","titleFontSize":27.5,"titlePadding":2.5}},
      "y":{"field":"r","type":"quantitative","axis":{"orient":"right","labels":false,"values":[0,0.2,0.4,0.6,0.8,1],"title":null}}}}
   ]},
  {"width":883,"height":297,"view":{"stroke":null},"data":{"name":"pcap"},
   "encoding":{"y":{"field":"idx","type":"ordinal","scale":{"range":[0,265],"paddingInner":0,"paddingOuter":0},"axis":null}},
   "layer":[
    {"mark":{"type":"rect"},
     "encoding":{
      "x":{"datum":0,"type":"quantitative","scale":{"domain":[0.0417,1],"nice":false,"zero":false},"axis":null},
      "x2":{"datum":1},
      "fill":{"field":"kind","type":"nominal","scale":{"domain":["tcp","bad","rst"],"range":["#e4e4f8","#12272e","#a40000"]},"legend":null}}},
    {"mark":{"type":"text","align":"left","baseline":"middle","dx":12,"font":"DejaVu Sans Mono","fontSize":15.5},
     "encoding":{
      "x":{"datum":0,"type":"quantitative"},
      "text":{"field":"line"},
      "color":{"field":"kind","type":"nominal","scale":{"domain":["tcp","bad","rst"],"range":["#12272e","#f78787","#fffc9c"]},"legend":null}}},
    {"data":{"values":[{"note":"scrollbar"}]},
     "mark":{"type":"point","shape":"M-1,-0.0054L1,-0.0054L1,0.0054L-1,0.0054Z","size":848241,"filled":true,"fill":"#e0e0e0","strokeWidth":0,"opacity":1,"yOffset":13.5},
     "encoding":{"x":{"datum":0.5,"type":"quantitative"},"y":{"datum":12,"type":"ordinal"}}},
    {"data":{"values":[{"note":"reset"}]},
     "mark":{"type":"point","shape":"M-1,-0.365L1,-0.365L1,0.365L-1,0.365Z","size":13225,"filled":true,"fill":"#ffffff","strokeWidth":0,"opacity":1,"yOffset":-1},
     "encoding":{"x":{"datum":0.7228,"type":"quantitative"},"y":{"datum":10,"type":"ordinal"}}},
    {"data":{"values":[{"note":"reset"}]},
     "mark":{"type":"point","shape":"M-1,-0.12L0.35,-0.12L0.35,-0.3L1,0L0.35,0.3L0.35,0.12L-1,0.12Z","size":2025,"filled":true,"fill":"#ffffff","stroke":"#000000","strokeWidth":3,"opacity":1,"yOffset":-2},
     "encoding":{"x":{"datum":0.6857,"type":"quantitative"},"y":{"datum":10,"type":"ordinal"}}},
    {"data":{"values":[{"note":"reset"}]},
     "mark":{"type":"text","align":"left","baseline":"alphabetic","dy":4,"font":"Liberation Sans","fontSize":23,"color":"#000000"},
     "encoding":{"x":{"datum":0.7277,"type":"quantitative"},"y":{"datum":10,"type":"ordinal"},"text":{"field":"note"}}}
   ]}
  ],"bounds":"flush","spacing":206}
 ],"spacing":56.6,"center":true}
],
"columns":1,
"align":"each",
"center":true,
"spacing":52,
"config":{
 "view":{"stroke":"#000000","strokeWidth":1.9},
 "font":"DejaVu Sans",
 "axis":{"grid":false,"domain":false,"tickSize":-7,"tickColor":"#000000","tickWidth":1.2,"labelFont":"DejaVu Sans","labelFontSize":22,"labelColor":"#111111","labelFlush":false,"labelOverlap":false,"titleFont":"DejaVu Sans","titleFontWeight":"normal","titleFontSize":23,"titleColor":"#111111"},
 "title":{"font":"Liberation Sans","fontWeight":"normal","fontSize":42,"color":"#000000","anchor":"middle"}
}
}
